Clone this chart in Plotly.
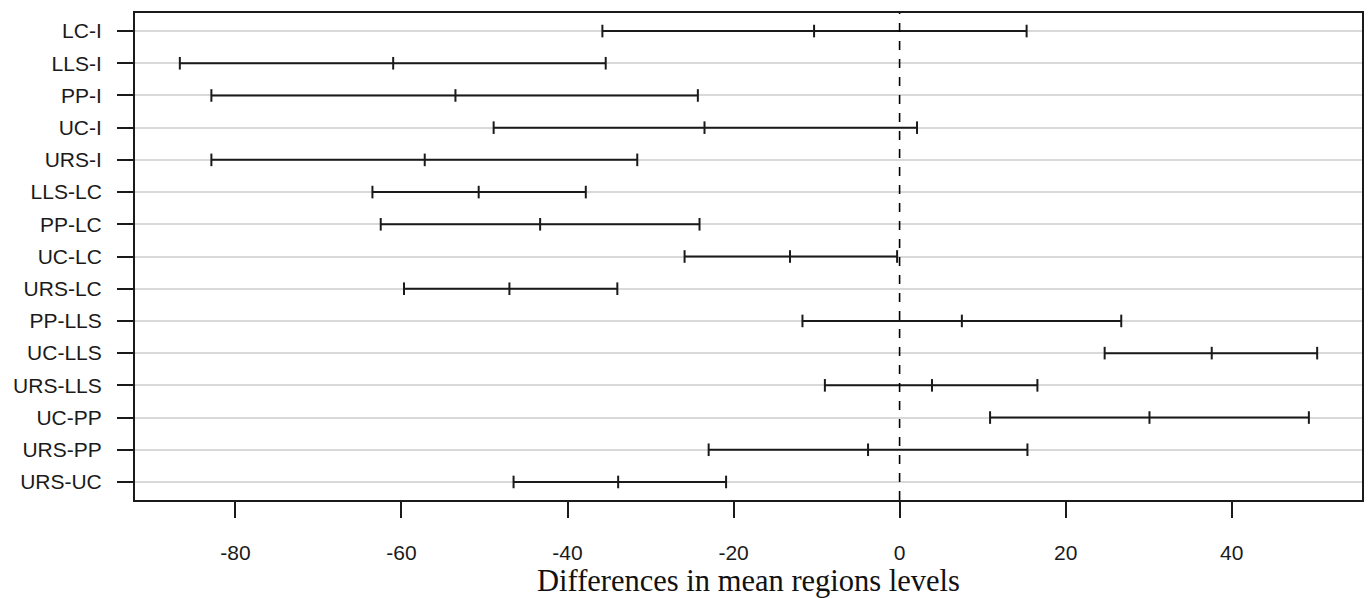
import plotly.graph_objects as go

comparisons = ["LC-I", "LLS-I", "PP-I", "UC-I", "URS-I", "LLS-LC", "PP-LC", "UC-LC",
               "URS-LC", "PP-LLS", "UC-LLS", "URS-LLS", "UC-PP", "URS-PP", "URS-UC"]
lower = [-35.8, -86.7, -82.9, -48.9, -82.9, -63.5, -62.5, -25.9,
         -59.7, -11.7, 24.7, -9.0, 10.9, -23.0, -46.5]
diff = [-10.3, -61.0, -53.5, -23.5, -57.2, -50.7, -43.3, -13.2,
        -47.0, 7.5, 37.6, 3.9, 30.1, -3.8, -33.9]
upper = [15.3, -35.4, -24.3, 2.1, -31.6, -37.8, -24.1, -0.3,
         -34.0, 26.7, 50.3, 16.6, 49.3, 15.4, -20.9]
x_ticks = [-80, -60, -40, -20, 0, 20, 40]
x_tick_labels = ["-80", "-60", "-40", "-20", "0", "20", "40"]

xs, ys = [], []
for c, lo, m, hi in zip(comparisons, lower, diff, upper):
    xs += [lo, m, hi, None]
    ys += [c, c, c, None]

fig = go.Figure()
fig.add_trace(go.Scatter(
    x=xs, y=ys, mode="lines+markers",
    line=dict(color="#1a1a1a", width=2),
    marker=dict(symbol="line-ns", size=9, color="#1a1a1a",
                line=dict(color="#1a1a1a", width=2)),
    connectgaps=False, showlegend=False, hoverinfo="skip",
))
fig.add_shape(type="line", x0=0, x1=0, y0=0, y1=1, xref="x", yref="paper",
              line=dict(color="black", width=1.6, dash="dash"))

fig.update_layout(
    width=1370, height=598,
    margin=dict(l=135, r=6, t=13, b=98),
    paper_bgcolor="white", plot_bgcolor="white",
    font=dict(family="Liberation Sans, Arial, sans-serif", size=21, color="#1a1a1a"),
    showlegend=False,
)
fig.update_xaxes(
    range=[-92.1, 55.7], tickmode="array", tickvals=x_ticks, ticktext=x_tick_labels,
    ticks="outside", ticklen=16, tickwidth=2, tickcolor="#1a1a1a",
    ticklabelstandoff=17,
    showgrid=False, zeroline=False,
    showline=True, linecolor="#1a1a1a", linewidth=2, mirror=True,
    title=dict(text="Differences in mean regions levels",
               font=dict(family="Liberation Serif, Times New Roman, serif", size=30.5, color="#111"),
               standoff=5),
)
fig.update_yaxes(
    type="category", categoryorder="array", categoryarray=comparisons,
    range=[14.56, -0.56],
    ticks="outside", ticklen=16, tickwidth=2, tickcolor="#1a1a1a",
    ticklabelstandoff=11,
    showgrid=True, gridcolor="#d9d9d9", gridwidth=1.5,
    zeroline=False,
    showline=True, linecolor="#1a1a1a", linewidth=2, mirror=True,
)

fig.write_html("out.html")
